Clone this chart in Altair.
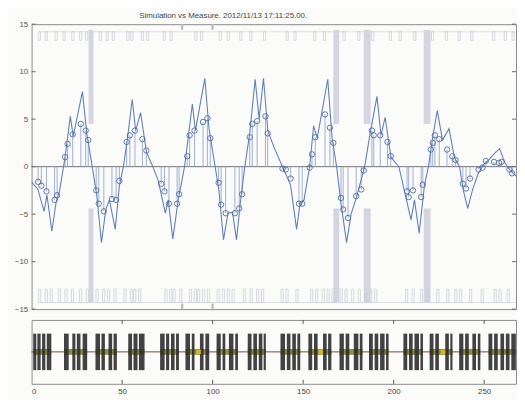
import altair as alt
import pandas as pd

# ---------------- data ----------------
title_text = "Simulation vs Measure. 2012/11/13 17:11:25.00."

# measured samples (circles with stems)
meas_x = [3.6, 5.4, 8.2, 12.7, 14.1, 18.5, 19.9, 22.7, 27.2, 29.9, 31.3, 35.7, 37.1, 39.9, 44.4,
          46.7, 48.5, 52.5, 54.3, 57.1, 61.2, 63.4, 71.6, 73.4, 75.9, 80.4, 81.5, 86.0, 87.3,
          90.0, 94.7, 97.1, 98.7, 103.3, 104.7, 107.2, 112.3, 114.7, 116.3, 120.5, 121.9, 124.6,
          129.2, 130.4, 138.6, 140.4, 143.1, 147.7, 149.5, 153.6, 154.9, 156.7, 162.1, 164.8,
          166.7, 170.9, 172.1, 174.8, 179.3, 182.1, 183.5, 188.0, 189.0, 192.6, 196.6, 198.4,
          207.4, 208.3, 210.7, 215.2, 216.1, 220.5, 221.6, 222.8, 225.2, 229.5, 232.4, 234.2,
          238.2, 240.0, 242.2, 246.9, 249.1, 250.9, 255.4, 258.2, 259.6, 264.0, 265.4]
meas_y = [-1.6, -2.0, -2.6, -3.5, -3.0, 1.0, 2.4, 3.4, 4.5, 3.8, 2.8, -2.5, -3.9, -4.7, -3.4,
          -3.5, -1.5, 2.6, 3.3, 3.8, 2.9, 1.7, -1.8, -2.6, -3.9, -3.9, -2.9, 1.1, 3.3,
          3.8, 4.7, 5.1, 3.0, -1.7, -4.0, -4.9, -4.9, -4.4, -2.9, 3.1, 4.5, 4.8,
          5.3, 3.5, -0.2, -0.3, -1.25, -3.9, -3.9, -0.1, 1.3, 3.1, 5.5, 4.1,
          2.5, -3.3, -4.5, -5.4, -3.1, -2.4, -0.4, 3.8, 3.3, 3.3, 2.6, 1.1,
          -2.6, -3.2, -2.5, -3.2, -1.9, 1.8, 2.5, 3.3, 2.9, 1.8, 1.1, 0.7,
          -1.8, -2.3, -1.25, -0.3, -0.1, 0.6, 0.5, 0.4, 0.5, -0.3, -0.7]

# simulation (continuous line)
sim_x = [0, 3.5, 6.9, 8.5, 11.2, 13.5, 15.5, 18.5, 21.4, 23.0, 28.1, 30.5, 33.5, 36.0, 38.6,
         41.0, 43.0, 46.2, 48.5, 50.7, 53.0, 55.6, 57.5, 60.2, 63.5, 67.0, 70.0, 73.9, 75.5,
         78.0, 81.0, 84.5, 86.5, 88.8, 90.5, 95.7, 98.0, 101.4, 103.5, 106.0, 108.5, 111.0,
         113.2, 115.5, 117.8, 120.5, 123.5, 125.7, 128.1, 130.5, 134.0, 138.6, 141.0, 143.1,
         146.4, 148.2, 150.5, 153.6, 155.8, 157.8, 163.6, 166.0, 168.5, 171.0, 174.0, 176.5,
         179.5, 184.0, 187.0, 190.8, 193.0, 195.3, 198.5, 202.9, 206.5, 209.6, 211.5, 214.1,
         217.0, 219.2, 221.5, 224.1, 227.0, 230.6, 233.5, 236.4, 238.5, 240.9, 243.5, 246.5,
         249.5, 253.0, 255.2, 258.5, 261.5, 264.0, 269.0]
sim_y = [-1.6, -2.4, -4.7, -3.0, -6.8, -3.8, -2.5, 1.0, 5.3, 3.2, 7.9, 3.5, 0.0, -3.0, -8.0,
         -4.5, -3.5, -6.6, -2.0, 0.0, 3.0, 7.1, 3.8, 5.7, 1.5, 0.0, -1.5, -4.9, -3.5,
         -7.6, -3.5, 0.0, 3.0, 6.6, 3.8, 9.3, 4.0, 0.0, -2.5, -7.7, -4.9, -4.8,
         -7.7, -3.5, 0.0, 3.5, 9.2, 5.0, 9.3, 3.8, 2.0, 0.0, -1.0, -2.0,
         -6.6, -4.0, -3.5, 0.0, 4.3, 3.0, 9.2, 3.0, 0.0, -4.0, -8.0, -5.0,
         -3.2, 0.0, 3.5, 7.4, 3.3, 5.2, 1.0, 0.0, -3.0, -5.6, -3.5, -7.0,
         -2.0, 0.0, 3.0, 5.9, 2.8, 4.0, 1.0, 0.0, -2.5, -4.4, -2.5, -0.8,
         0.2, 0.8, 1.3, 1.9, 0.4, -0.3, -1.25]

# grey vertical bands (upper and lower parts)
band_x1 = [31.5, 166.7, 183.5, 216.6]
band_x2 = [34.2, 169.9, 187.3, 220.4]
band_upper = [4.5, 14.4]
band_lower = [-4.4, -14.3]

# small grey marks on top and bottom frame
mark_x1 = [82.5, 99.3]
mark_x2 = [83.8, 100.6]

# pulse trains (top: downward pulses, bottom: upward pulses)
top_pulses = [4.3, 8.1, 13.6, 17.9, 22.8, 27.1, 30.4, 38.0, 41.8, 45.1, 53.2, 55.4, 61.3, 64.1,
              73.3, 77.1, 90.7, 93.9, 104.2, 108.6, 115.6, 121.1, 128.7, 141.2, 145.5, 156.4,
              161.8, 172.6, 180.8, 188.4, 198.2, 203.6, 211.7, 221.5, 229.1, 236.2, 243.2,
              255.2, 261.7, 266.0]
bot_pulses = [4.5, 8.1, 10.9, 15.4, 19.0, 22.6, 27.1, 30.8, 36.2, 39.8, 42.5, 46.1, 51.6, 55.2,
              57.0, 59.7, 74.2, 76.9, 78.7, 82.4, 87.8, 90.5, 92.3, 95.0, 97.7, 103.1, 105.9,
              108.6, 111.3, 117.6, 121.3, 124.9, 127.6, 138.4, 141.1, 146.6, 154.7, 157.5,
              161.1, 163.8, 166.5, 171.0, 173.7, 177.4, 181.0, 184.6, 187.3, 190.1, 207.2,
              210.8, 215.4, 219.0, 224.4, 229.9, 234.4, 237.1, 242.5, 248.9, 256.1, 258.8, 263.3]
top_base, top_tip = 14.2, 13.3
bot_base, bot_tip = -14.3, -12.9

# bottom panel: dark bar blocks and their clusters
blk_x1 = [0.9, 3.2, 5.8, 8.4, 17.9, 22.5, 25.0, 28.2, 35.3, 38.6, 42.5, 45.3, 53.4, 56.3, 59.3,
          71.0, 74.3, 77.0, 79.8, 85.0, 88.5, 93.0, 96.0, 102.2, 105.5, 109.0, 112.5,
          119.4, 122.5, 125.5, 128.2, 137.5, 141.0, 144.0, 146.8, 152.9, 156.0, 161.0, 163.8,
          170.1, 173.5, 178.0, 181.3, 186.4, 189.5, 192.5, 195.8, 205.4, 208.5, 211.5, 214.8,
          219.9, 223.0, 228.5, 231.3, 236.2, 239.5, 243.5, 246.5, 252.4, 255.5, 259.0, 262.0, 265.0]
blk_x2 = [2.6, 5.0, 7.6, 10.9, 20.5, 24.2, 27.0, 30.7, 37.8, 40.5, 44.5, 47.1, 55.5, 58.5, 62.4,
          73.5, 76.0, 79.0, 81.4, 87.5, 90.0, 95.0, 98.1, 104.5, 107.0, 111.5, 114.0,
          121.5, 124.5, 127.5, 129.4, 140.0, 143.0, 146.0, 148.4, 155.0, 158.0, 163.0, 165.6,
          172.5, 175.5, 180.5, 182.8, 188.5, 191.5, 195.0, 197.2, 207.5, 210.5, 214.0, 216.2,
          222.0, 225.0, 230.5, 232.5, 238.5, 241.5, 245.5, 247.9, 254.5, 257.5, 261.0, 264.0, 267.5]
clu_x1 = [0.9, 17.9, 35.3, 53.4, 71.0, 85.0, 102.2, 119.4, 137.5, 152.9, 170.1, 186.4, 205.4,
          219.9, 236.2, 252.4]
clu_x2 = [10.9, 30.7, 47.1, 62.4, 81.4, 98.1, 114.0, 129.4, 148.4, 165.6, 182.8, 197.2, 216.2,
          232.5, 247.9, 267.5]
hot_x1 = [91.0, 158.5, 226.0]
hot_x2 = [93.5, 161.0, 228.5]

y_ticks = [-15, -10, -5, 0, 5, 10, 15]
x_ticks = [0, 50, 100, 150, 200, 250]

# ---------------- layout constants ----------------
XMAX = 267.6
W = 493
H1 = 290
H2 = 65
FONT = "Liberation Sans"

xs = alt.Scale(domain=[0, XMAX], nice=False, zero=False)
ys = alt.Scale(domain=[-15, 15], nice=False, zero=False)
ys2 = alt.Scale(domain=[-1.75, 1.75], nice=False, zero=False)

# ---------------- tables ----------------
meas = pd.DataFrame({"x": meas_x, "y": meas_y, "z": 0.0})
sim = pd.DataFrame({"x": sim_x, "y": sim_y})
bands = pd.DataFrame({
    "x1": band_x1 * 2, "x2": band_x2 * 2,
    "y1": [band_upper[0]] * 4 + [band_lower[0]] * 4,
    "y2": [band_upper[1]] * 4 + [band_lower[1]] * 4,
})
marks = pd.DataFrame({
    "x1": mark_x1 * 2, "x2": mark_x2 * 2,
    "y1": [14.4, 14.4, -14.4, -14.4], "y2": [15, 15, -15, -15],
})
pulses = pd.DataFrame({
    "x1": [p - 0.6 for p in top_pulses] + [p - 0.6 for p in bot_pulses],
    "x2": [p + 0.6 for p in top_pulses] + [p + 0.6 for p in bot_pulses],
    "y1": [top_base] * len(top_pulses) + [bot_base] * len(bot_pulses),
    "y2": [top_tip] * len(top_pulses) + [bot_tip] * len(bot_pulses),
})
bases = pd.DataFrame({"y": [top_base, bot_base]})
zero = pd.DataFrame({"y": [0.0]})
yt = pd.DataFrame({"y": y_ticks})
xt = pd.DataFrame({"x": x_ticks[1:]})
ttl = pd.DataFrame({"t": [title_text]})
blocks = pd.DataFrame({"x1": blk_x1, "x2": blk_x2, "y1": -1.0, "y2": 1.0})
clus = pd.DataFrame({"x1": clu_x1, "x2": clu_x2, "y1": -0.16, "y2": 0.16})
hots = pd.DataFrame({"x1": hot_x1, "x2": hot_x2, "y1": -0.12, "y2": 0.12})

# ---------------- top panel ----------------
band_l = alt.Chart(bands).mark_rect(color="#cbccd9", opacity=0.8).encode(
    x=alt.X("x1:Q", scale=xs, axis=None), x2="x2:Q",
    y=alt.Y("y1:Q", scale=ys, axis=alt.Axis(values=y_ticks, ticks=False, domain=False, grid=False,
                                            labelFontSize=8, labelColor="#555555", labelFont=FONT,
                                            labelPadding=4, title=None, minExtent=17, maxExtent=17)),
    y2="y2:Q")
mark_l = alt.Chart(marks).mark_rect(color="#bcbec8").encode(
    x=alt.X("x1:Q", scale=xs), x2="x2:Q", y=alt.Y("y1:Q", scale=ys), y2="y2:Q")
base_l = alt.Chart(bases).mark_rule(color="#d3d6de", strokeWidth=0.8).encode(
    y=alt.Y("y:Q", scale=ys), x=alt.value(8), x2=alt.value(W))
pulse_l = alt.Chart(pulses).mark_rect(fillOpacity=0, stroke="#cdd0da", strokeWidth=0.8).encode(
    x=alt.X("x1:Q", scale=xs), x2="x2:Q", y=alt.Y("y1:Q", scale=ys), y2="y2:Q")
zero_l = alt.Chart(zero).mark_rule(color="#707070", strokeWidth=1).encode(
    y=alt.Y("y:Q", scale=ys), x=alt.value(0), x2=alt.value(W))
stem_l = alt.Chart(meas).mark_rule(color="#92a8d3", strokeWidth=0.9).encode(
    x=alt.X("x:Q", scale=xs), y=alt.Y("z:Q", scale=ys), y2="y:Q")
sim_l = alt.Chart(sim).mark_line(color="#6080bd", strokeWidth=1.1, clip=True).encode(
    x=alt.X("x:Q", scale=xs), y=alt.Y("y:Q", scale=ys))
circ_l = alt.Chart(meas).mark_point(shape="circle", filled=False, size=30, color="#4f69a6",
                                    strokeWidth=0.9, opacity=1).encode(
    x=alt.X("x:Q", scale=xs), y=alt.Y("y:Q", scale=ys))
ltick_l = alt.Chart(yt).mark_rule(color="#666666").encode(
    y=alt.Y("y:Q", scale=ys), x=alt.value(0), x2=alt.value(4))
rtick_l = alt.Chart(yt).mark_rule(color="#666666").encode(
    y=alt.Y("y:Q", scale=ys), x=alt.value(W - 4), x2=alt.value(W))
title_l = alt.Chart(ttl).mark_text(fontSize=8, font=FONT, color="#444444", baseline="middle",
                                   align="center").encode(
    text="t:N", x=alt.value(195), y=alt.value(-8))

top = alt.layer(band_l, mark_l, base_l, pulse_l, zero_l, stem_l, sim_l, circ_l,
                ltick_l, rtick_l, title_l).properties(width=W, height=H1)

# ---------------- bottom panel ----------------
mid_l = alt.Chart(zero).mark_rule(color="#8a3c3c", strokeWidth=1).encode(
    y=alt.Y("y:Q", scale=ys2, axis=alt.Axis(labels=False, ticks=False, domain=False, grid=False,
                                             title=None, minExtent=17, maxExtent=17)),
    x=alt.value(0), x2=alt.value(W))
clu_l = alt.Chart(clus).mark_rect(color="#8f8d3e").encode(
    x=alt.X("x1:Q", scale=xs, axis=alt.Axis(values=x_ticks, ticks=False, domain=False, grid=False,
                                             labelFontSize=8, labelColor="#444444", labelFont=FONT,
                                             labelPadding=4, title=None)),
    x2="x2:Q", y=alt.Y("y1:Q", scale=ys2), y2="y2:Q")
blk_l = alt.Chart(blocks).mark_rect(color="#2e2e2e", opacity=0.9).encode(
    x=alt.X("x1:Q", scale=xs), x2="x2:Q", y=alt.Y("y1:Q", scale=ys2), y2="y2:Q")
hot_l = alt.Chart(hots).mark_rect(color="#d6b81e").encode(
    x=alt.X("x1:Q", scale=xs), x2="x2:Q", y=alt.Y("y1:Q", scale=ys2), y2="y2:Q")
ttick_l = alt.Chart(xt).mark_rule(color="#555555").encode(
    x=alt.X("x:Q", scale=xs), y=alt.value(0), y2=alt.value(4))
btick_l = alt.Chart(xt).mark_rule(color="#555555").encode(
    x=alt.X("x:Q", scale=xs), y=alt.value(H2 - 4), y2=alt.value(H2))

bottom = alt.layer(mid_l, clu_l, blk_l, hot_l, ttick_l, btick_l).properties(width=W, height=H2)

chart = alt.vconcat(top, bottom, spacing=11, bounds="flush").properties(
    padding={"left": 5, "top": 0, "right": 0, "bottom": 0},
    background="#fbfbf9",
).configure_view(stroke="#8a8a8a", strokeWidth=1).resolve_scale(x="shared")

chart.save("out.html", embed_options={"renderer": "svg", "actions": False})
